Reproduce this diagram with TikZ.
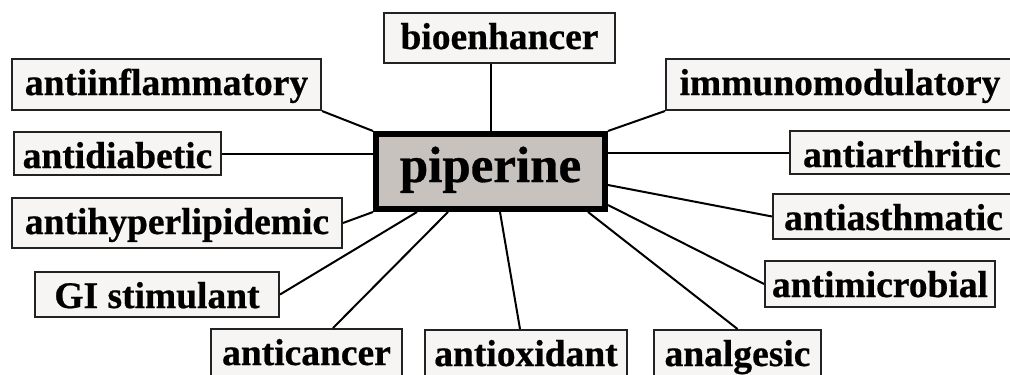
\documentclass[tikz,border=0pt]{standalone}
\usepackage{fontspec}
\setmainfont{Liberation Serif}[BoldFeatures={FakeBold=0.6}]
\definecolor{boxfill}{HTML}{F6F5F3}
\definecolor{hubfill}{HTML}{C7C2BE}
\definecolor{boxline}{HTML}{222222}
\tikzset{
  box/.style n args={2}{draw=boxline, fill=boxfill, line width=2pt, inner sep=0pt,
    minimum width=#1, text height=36pt, text depth=#2,
    font=\bfseries\fontsize{37.5}{40}\selectfont},
  hub/.style={draw=black, fill=hubfill, line width=6pt, inner sep=0pt,
    minimum width=229pt, text height=48pt, text depth=27pt,
    font=\bfseries\fontsize{51}{54}\selectfont},
  link/.style={draw=black, line width=2pt}
}
\begin{document}
\begin{tikzpicture}[x=1pt,y=-1pt]
\useasboundingbox (0,0) rectangle (1010,375);
\clip (0,0) rectangle (1010,375);
\fill[white] (0,0) rectangle (1010,375);

\node[hub] (piperine) at (490.5,171.5) {piperine};

\node[box={231pt}{14pt}] (bio) at (499.5,38) {bioenhancer};
\node[box={309pt}{15pt}] (infl) at (166.5,84.5) {antiinflammatory};
\node[box={348pt}{15pt}] (immuno) at (840,84.5) {immunomodulatory};
\node[box={207pt}{7pt}] (diab) at (117.5,153.5) {antidiabetic};
\node[box={224pt}{7pt}] (arth) at (902,152.5) {antiarthritic};
\node[box={330pt}{14pt}] (hyper) at (177,223) {antihyperlipidemic};
\node[box={241pt}{9pt}] (asthm) at (893.5,216.5) {antiasthmatic};
\node[box={244pt}{9pt}] (gi) at (157,294.5) {GI stimulant};
\node[box={230pt}{10pt}] (microb) at (880,284) {antimicrobial};
\node[box={191pt}{16pt}] (cancer) at (306.5,355) {anticancer};
\node[box={202pt}{15pt}] (antiox) at (526,355.5) {antioxidant};
\node[box={167pt}{15pt}] (analg) at (737.5,355.5) {analgesic};

\draw[link] (piperine.north) -- (piperine.north |- bio.south);
\draw[link] (infl.south east) -- (piperine.north west);
\draw[link] (diab.east) -- (diab.east -| piperine.west);
\draw[link] (hyper.east) -- (piperine.south west);
\draw[link] (gi.east) -- ([xshift=-73.5pt]piperine.south);
\draw[link] ([xshift=26.5pt]cancer.north) -- ([xshift=-42.5pt]piperine.south);
\draw[link] ([xshift=-6pt]antiox.north) -- ([xshift=9.5pt]piperine.south);
\draw[link] (analg.north) -- ([xshift=97.5pt]piperine.south);
\draw[link] (microb.west) -- ([yshift=7pt]piperine.south east);
\draw[link] (asthm.west) -- ([yshift=-13.5pt]piperine.east);
\draw[link] (arth.west) -- (arth.west -| piperine.east);
\draw[link] (immuno.south west) -- (piperine.north east);
\end{tikzpicture}
\end{document}
